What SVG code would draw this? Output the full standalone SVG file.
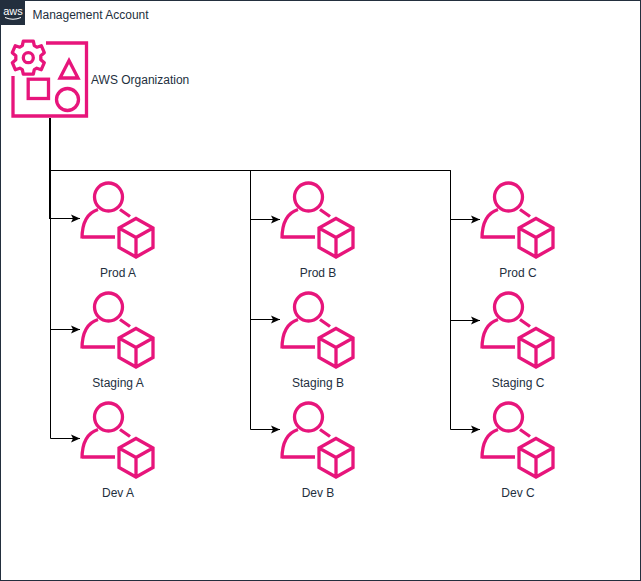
<svg xmlns="http://www.w3.org/2000/svg" width="641" height="581" viewBox="0 0 641 581">
<style>
.p{fill:none;stroke:#e7157b;stroke-width:3.300}
.c{fill:none;stroke:#000;stroke-width:1}
.t{font-family:"Liberation Sans",Arial,sans-serif;font-size:12px;fill:#232f3e}
.m{text-anchor:middle}
</style>
<defs>
<marker id="a" markerUnits="userSpaceOnUse" markerWidth="10" markerHeight="9" refX="9" refY="4.500" orient="auto"><path d="M0 0.500L9 4.500L0 8.500L2 4.500Z" fill="#000"/></marker>
<g id="acct">
<circle class="p" cx="108.500" cy="197" r="14"/>
<path class="p" d="M82 238.500C82 224 87 213 98 209.500M120 209.500L130 216.500M82 237H115"/>
<path class="p" d="M136 218.500L153 228V247.500L136 257L119 247.500V228ZM119 228L136 237.500L153 228M136 237.500V257"/>
</g>
</defs>
<rect x="0.500" y="0.500" width="640" height="580" fill="#fff" stroke="#232f3e" stroke-width="1"/>
<g id="management-account">
<rect x="0" y="0" width="25" height="25" fill="#232f3e"/>
<text x="13" y="15" font-family="'Liberation Sans',Arial,sans-serif" font-size="11" fill="#fff" text-anchor="middle">aws</text>
<path d="M5 17.500Q13 21 21 17.500" fill="none" stroke="#fff" stroke-width="1"/>
<text class="t" x="32.500" y="19">Management Account</text>
</g>
<g id="connectors">
<path class="c" style="stroke-width:2" d="M50 118V219"/>
<path class="c" d="M50.500 170.500H450.500"/>
<path class="c" marker-end="url(#a)" d="M50.500 218.500H80"/>
<path class="c" marker-end="url(#a)" d="M50.500 170.500V329.500H80"/>
<path class="c" marker-end="url(#a)" d="M50.500 170.500V438.500H80"/>
<path class="c" marker-end="url(#a)" d="M250.500 170.500V219.500H280"/>
<path class="c" marker-end="url(#a)" d="M250.500 170.500V319.500H280"/>
<path class="c" marker-end="url(#a)" d="M250.500 170.500V429.500H280"/>
<path class="c" marker-end="url(#a)" d="M450.500 170.500V219.500H480"/>
<path class="c" marker-end="url(#a)" d="M450.500 170.500V320.500H480"/>
<path class="c" marker-end="url(#a)" d="M450.500 170.500V429.500H480"/>
</g>
<g id="aws-organization">
<path class="p" d="M46 43H86.500V116H13V76"/>
<g transform="translate(28.300 57.700)">
<path class="p" d="M-5 -16.500H5L6 -12L8.500 -10.500L13 -12L16 -5L12.500 -2V2L16 5L13 12L8.500 10.500L6 12L5 16.500H-5L-6 12L-8.500 10.500L-13 12L-16 5L-12.500 2V-2L-16 -5L-13 -12L-8.500 -10.500L-6 -12Z" stroke-linejoin="round"/>
<circle class="p" r="5"/>
</g>
<path class="p" d="M69 60.500L78 78H60Z"/>
<rect class="p" x="28.200" y="79.200" width="20.300" height="19.300"/>
<circle class="p" cx="67.500" cy="99.500" r="11"/>
<text class="t" x="91" y="84">AWS Organization</text>
</g>
<g id="prod-a"><use href="#acct"/><text class="t m" x="118" y="277">Prod A</text></g>
<g id="staging-a"><use href="#acct" y="110"/><text class="t m" x="118" y="387">Staging A</text></g>
<g id="dev-a"><use href="#acct" y="220"/><text class="t m" x="118" y="497">Dev A</text></g>
<g id="prod-b"><use href="#acct" x="200"/><text class="t m" x="318" y="277">Prod B</text></g>
<g id="staging-b"><use href="#acct" x="200" y="110"/><text class="t m" x="318" y="387">Staging B</text></g>
<g id="dev-b"><use href="#acct" x="200" y="220"/><text class="t m" x="318" y="497">Dev B</text></g>
<g id="prod-c"><use href="#acct" x="400"/><text class="t m" x="518" y="277">Prod C</text></g>
<g id="staging-c"><use href="#acct" x="400" y="110"/><text class="t m" x="518" y="387">Staging C</text></g>
<g id="dev-c"><use href="#acct" x="400" y="220"/><text class="t m" x="518" y="497">Dev C</text></g>
</svg>
